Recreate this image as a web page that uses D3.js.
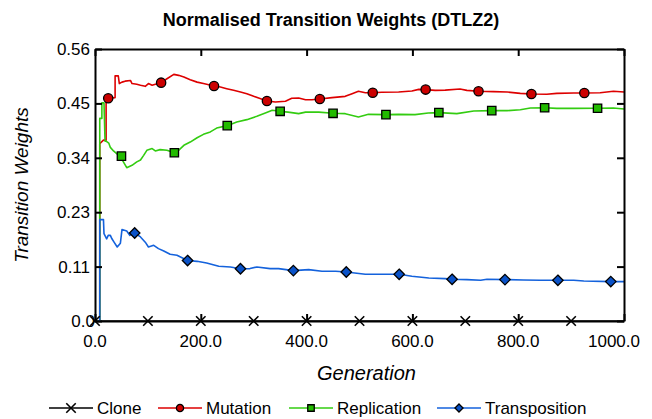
<!DOCTYPE html>
<html>
<head>
<meta charset="utf-8">
<script src="https://cdn.jsdelivr.net/npm/d3@7"></script>
<style>
  body { margin: 0; background: #fff; }
  svg { display: block; font-family: "Liberation Sans", Arial, sans-serif; }
</style>
</head>
<body>
<div id="chart"></div>
<script>
// generation / weight pairs
const clone = [[0, 0], [1000, 0]];
const cloneMarks = [[0, 0], [100, 0], [200, 0], [300, 0], [400, 0], [500, 0], [600, 0], [700, 0], [800, 0], [900, 0]];

const mutation = [[0, 0], [9, 0], [9, 0.367], [16, 0.374], [21, 0.374], [21, 0.46], [25, 0.4605], [38, 0.462], [38, 0.507],
  [44, 0.507], [46, 0.491], [51, 0.494], [57, 0.496], [67, 0.4975], [70, 0.491], [79, 0.4895], [86, 0.4874], [95, 0.4853],
  [101, 0.491], [108, 0.4874], [114, 0.4895], [125, 0.4929], [136, 0.501], [149, 0.510], [158, 0.508], [168, 0.5046],
  [180, 0.499], [193, 0.494], [205, 0.491], [225, 0.486], [237, 0.484], [249, 0.4805], [262, 0.477], [275, 0.4736],
  [287, 0.470], [300, 0.4646], [312, 0.460], [325, 0.455], [341, 0.453], [360, 0.4545], [372, 0.4605], [385, 0.461],
  [398, 0.4575], [410, 0.4575], [425, 0.459], [448, 0.462], [473, 0.4646], [486, 0.470], [498, 0.475], [511, 0.472],
  [525, 0.472], [542, 0.473], [574, 0.4736], [599, 0.4757], [612, 0.479], [625, 0.4785], [643, 0.477], [662, 0.4775],
  [690, 0.4797], [703, 0.477], [725, 0.475], [753, 0.4743], [779, 0.4736], [804, 0.4708], [825, 0.4695], [854, 0.4688],
  [873, 0.4708], [905, 0.4715], [925, 0.4715], [955, 0.472], [980, 0.475], [1000, 0.4736]];
const mutationMarks = [[25, 0.4605], [125, 0.4929], [225, 0.486], [325, 0.455], [425, 0.459], [525, 0.472],
  [625, 0.4785], [725, 0.475], [825, 0.4695], [925, 0.4715]];

const replication = [[0, 0], [9, 0], [9, 0.419], [13, 0.419], [13, 0.451], [17, 0.451], [19, 0.372], [21, 0.372],
  [26, 0.368], [29, 0.359], [35, 0.3516], [41, 0.346], [50, 0.341], [52, 0.332], [60, 0.317], [70, 0.322], [79, 0.329],
  [86, 0.333], [92, 0.3426], [98, 0.353], [108, 0.3565], [114, 0.3516], [123, 0.3544], [136, 0.353], [150, 0.348],
  [158, 0.353], [168, 0.3633], [180, 0.370], [193, 0.379], [205, 0.386], [218, 0.391], [230, 0.399], [250, 0.404],
  [268, 0.4116], [287, 0.4164], [306, 0.4233], [322, 0.430], [335, 0.4357], [350, 0.4336], [365, 0.432], [385, 0.4288],
  [398, 0.432], [423, 0.432], [450, 0.4295], [473, 0.4288], [498, 0.4219], [517, 0.4274], [550, 0.4268], [574, 0.4274],
  [605, 0.4268], [630, 0.430], [650, 0.431], [684, 0.4288], [716, 0.4343], [750, 0.435], [779, 0.435], [804, 0.437],
  [823, 0.4405], [850, 0.441], [873, 0.4397], [905, 0.4397], [950, 0.440], [980, 0.4405], [1000, 0.4385]];
const replicationMarks = [[50, 0.341], [150, 0.348], [250, 0.404], [350, 0.4336], [450, 0.4295], [550, 0.4268],
  [650, 0.431], [750, 0.435], [850, 0.441], [950, 0.440]];

const transposition = [[0, 0], [9, 0], [9, 0.2096], [16, 0.2096], [17, 0.1807], [22, 0.170], [25, 0.177], [29, 0.177],
  [32, 0.170], [36, 0.163], [42, 0.153], [48, 0.161], [51, 0.189], [60, 0.186], [66, 0.177], [75, 0.182], [86, 0.1738],
  [95, 0.163], [101, 0.153], [111, 0.1565], [120, 0.1497], [130, 0.1448], [142, 0.1379], [155, 0.1359], [175, 0.125],
  [193, 0.1234], [211, 0.120], [234, 0.1131], [256, 0.1117], [275, 0.108], [293, 0.1084], [306, 0.1117], [331, 0.1084],
  [347, 0.1084], [375, 0.1042], [404, 0.1062], [429, 0.1028], [455, 0.1028], [475, 0.1013], [511, 0.0966], [542, 0.0966],
  [575, 0.0966], [599, 0.0924], [631, 0.089], [662, 0.0876], [675, 0.0862], [703, 0.0856], [729, 0.0842], [741, 0.0862],
  [775, 0.0856], [810, 0.0849], [842, 0.0842], [875, 0.0842], [905, 0.0842], [924, 0.0828], [975, 0.0815], [1000, 0.0815]];
const transpositionMarks = [[75, 0.182], [175, 0.125], [275, 0.108], [375, 0.1042], [475, 0.1013], [575, 0.0966],
  [675, 0.0862], [775, 0.0856], [875, 0.0842], [975, 0.0815]];

const xTicks = [0, 200, 400, 600, 800, 1000];
const yTicks = [0, 0.1125, 0.225, 0.3375, 0.45, 0.5625];
const yTickLabels = ["0.0", "0.11", "0.23", "0.34", "0.45", "0.56"];

const seriesNames = ["Clone", "Mutation", "Replication", "Transposition"];

const W = 652, H = 419;
const margin = { top: 49, right: 28, bottom: 98, left: 95 };
const width = W - margin.left - margin.right,
      height = H - margin.top - margin.bottom;

const svg = d3.select("#chart").append("svg")
  .attr("width", W)
  .attr("height", H);

svg.append("rect").attr("width", W).attr("height", H).attr("fill", "#fff");

const g = svg.append("g").attr("transform", `translate(${margin.left},${margin.top})`);

const x = d3.scaleLinear().domain([0, 1000]).range([0, width]);
const y = d3.scaleLinear().domain([0, 0.5625]).range([height, 0]);

// marker shapes
const symbolType = {
  Clone: d3.symbolTimes,
  Mutation: d3.symbolCircle,
  Replication: d3.symbolSquare,
  Transposition: d3.symbolDiamond2
};
const symbolSize = { Clone: 60, Mutation: 68, Replication: 70, Transposition: 70 };
const lineColor = { Clone: "#000", Mutation: "#dd0000", Replication: "#33cc11", Transposition: "#1462dc" };
const fillColor = { Clone: "none", Mutation: "#cc0000", Replication: "#22bb00", Transposition: "#0a52c8" };

function drawMarker(sel, name, scale) {
  const k = scale || 1;
  sel.attr("d", d3.symbol().type(symbolType[name]).size(symbolSize[name] * k)())
    .attr("fill", fillColor[name])
    .attr("stroke", "#000")
    .attr("stroke-width", name === "Clone" ? 1.6 : 1.3);
}

const series = [
  { name: "Clone", line: clone, marks: cloneMarks },
  { name: "Mutation", line: mutation, marks: mutationMarks },
  { name: "Replication", line: replication, marks: replicationMarks },
  { name: "Transposition", line: transposition, marks: transpositionMarks }
];

const line = d3.line().x(d => x(d[0])).y(d => y(d[1]));

series.forEach(s => {
  g.append("path")
    .datum(s.line)
    .attr("fill", "none")
    .attr("stroke", lineColor[s.name])
    .attr("stroke-width", 1.6)
    .attr("stroke-linejoin", "round")
    .attr("d", line);
});

// axes: all four sides, ticks pointing inward
g.append("g")
  .attr("transform", `translate(0,${height})`)
  .call(d3.axisBottom(x).tickValues(xTicks).tickSizeInner(-7).tickSizeOuter(0).tickFormat(""));
g.append("g")
  .call(d3.axisTop(x).tickValues(xTicks).tickSizeInner(-7).tickSizeOuter(0).tickFormat(""));
g.append("g")
  .call(d3.axisLeft(y).tickValues(yTicks).tickSizeInner(-7).tickSizeOuter(0).tickFormat(""));
g.append("g")
  .attr("transform", `translate(${width},0)`)
  .call(d3.axisRight(y).tickValues(yTicks).tickSizeInner(-7).tickSizeOuter(0).tickFormat(""));

g.selectAll(".domain").attr("stroke", "#000").attr("stroke-width", 2);
g.selectAll(".tick line").attr("stroke", "#000").attr("stroke-width", 2);

series.forEach(s => {
  g.selectAll(null)
    .data(s.marks)
    .enter()
    .append("path")
    .attr("transform", d => `translate(${x(d[0])},${y(d[1])})`)
    .call(drawMarker, s.name);
});

// tick labels
g.selectAll(".ylab")
  .data(yTicks)
  .enter()
  .append("text")
  .attr("x", (d, i) => i === 0 ? 0 : -5)
  .attr("y", d => y(d))
  .attr("dy", "0.35em")
  .attr("text-anchor", "end")
  .attr("font-size", 17)
  .attr("fill", "#000")
  .text((d, i) => yTickLabels[i]);

g.selectAll(".xlab")
  .data(xTicks)
  .enter()
  .append("text")
  .attr("x", d => d === 1000 ? x(d) - 10 : x(d))
  .attr("y", height + 26)
  .attr("text-anchor", "middle")
  .attr("font-size", 17)
  .attr("fill", "#000")
  .text(d => d3.format(".1f")(d));

// titles
svg.append("text")
  .attr("x", 331)
  .attr("y", 26)
  .attr("text-anchor", "middle")
  .attr("font-size", 18)
  .attr("font-weight", "bold")
  .text("Normalised Transition Weights (DTLZ2)");

svg.append("text")
  .attr("x", margin.left + width / 2 + 7)
  .attr("y", 380)
  .attr("text-anchor", "middle")
  .attr("font-size", 20)
  .attr("font-style", "italic")
  .text("Generation");

svg.append("text")
  .attr("transform", `translate(28,${margin.top + height / 2}) rotate(-90)`)
  .attr("text-anchor", "middle")
  .attr("font-size", 19)
  .attr("font-style", "italic")
  .text("Transition Weights");

// legend
const legendX = [49, 158, 289, 437];
const legendY = 408;
const legend = svg.append("g");
seriesNames.forEach((name, i) => {
  const lg = legend.append("g").attr("transform", `translate(${legendX[i]},${legendY})`);
  lg.append("line")
    .attr("x1", 0).attr("x2", 44)
    .attr("stroke", lineColor[name])
    .attr("stroke-width", 1.6);
  lg.append("path")
    .attr("transform", "translate(22,0)")
    .call(drawMarker, name, name === "Clone" ? 1 : 0.6);
  lg.append("text")
    .attr("x", 48)
    .attr("y", 6)
    .attr("font-size", 17)
    .text(name);
});
</script>
</body>
</html>
